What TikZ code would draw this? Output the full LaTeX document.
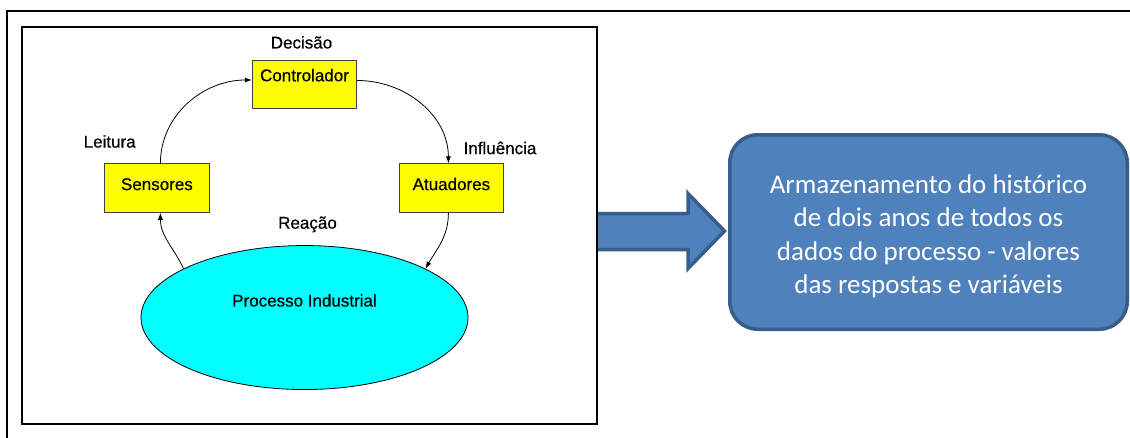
\documentclass[tikz,border=0pt]{standalone}
\usepackage[dvipsnames]{xcolor}
\usepackage{fontspec}
\usepackage{tikz}
\usetikzlibrary{positioning}
\usetikzlibrary{shapes.geometric,arrows.meta}
\newfontfamily\arialfont[FakeBold=0.5]{Liberation Sans}
\newfontfamily\calibrifont{Carlito}
\definecolor{BoxYellow}{HTML}{FFFF00}
\definecolor{ProcCyan}{HTML}{00FFFF}
\definecolor{StoreBlue}{HTML}{4F81BD}
\definecolor{StoreEdge}{HTML}{385D8A}

\tikzset{
    blockbox/.style = {draw=black!75, fill=BoxYellow, line width=0.8pt,
        minimum width=104.5pt, minimum height=48.5pt, inner sep=0pt,
        text height=12.5pt, text depth=8.5pt,
        font=\arialfont\fontsize{17}{20}\selectfont},
    looptag/.style = {inner sep=0pt, font=\arialfont\fontsize{17}{20}\selectfont},
    looparrow/.style = {line width=0.8pt, -{Latex[length=7pt,width=5pt]}},
}

\begin{document}
\begin{tikzpicture}[x=1pt, y=-1pt]
    \useasboundingbox (0,0) rectangle (1130,437);

    %Frames
    \draw[line width=2pt] (6.7,445) -- (6.7,11) -- (1140,11);

    %Big arrow
    \fill[StoreBlue] (597,213.5) -- (688,213.5) -- (688,193.5) -- (724.5,231)
        -- (688,268.5) -- (688,249.5) -- (597,249.5) -- cycle;
    \draw[StoreEdge, line width=3.5pt] (597,213.5) -- (688,213.5) -- (688,193.5)
        -- (724.5,231) -- (688,268.5) -- (688,249.5) -- (597,249.5);

    \draw[line width=2.2pt] (22,26.7) rectangle (596.7,424);

    %Loop blocks
    \node[blockbox, text depth=19pt] (Controller) at (304.5,84.5) {Controlador};

    \node[blockbox, below left = 54.3pt and 42.3pt of Controller] (Sensors) {Sensores};
    \node[blockbox, below right = 54.3pt and 41.6pt of Controller] (Actuators) {Atuadores};

    \node[ellipse, draw, fill=ProcCyan, line width=0.8pt, inner sep=0pt,
        minimum width=327pt, minimum height=144pt,
        text height=12.5pt, text depth=34.5pt,
        font=\arialfont\fontsize{17}{20}\selectfont,
        below = 136pt of Controller] (Process) {Processo Industrial};

    %-------------------------------------------
    %Labels

    \node[looptag, above = 11pt of Controller, xshift=-3pt] (DecisionLabel) {Decisão};
    \node[looptag, above left = 15.5pt and 21pt of Sensors.north] (ReadingLabel) {Leitura};
    \node[looptag, above right = 9pt and 12pt of Actuators.north] (InfluenceLabel) {Influência};
    \node[looptag, above = 12.7pt of Process, xshift=3pt] (ReactionLabel) {Reação};

    %-------------------------------------------
    %Loop

    \draw[looparrow] ([xshift=3.5pt]Sensors.north) to[out=90, in=180] ([yshift=4.5pt]Controller.west);
    \draw[looparrow] ([yshift=4pt]Controller.east) to[out=0, in=90] ([xshift=-3pt]Actuators.north);
    \draw[looparrow] ([xshift=-3pt]Actuators.south) to[out=-90, in=60] (Process.22);
    \draw[looparrow] (Process.158) to[out=115, in=-90] ([xshift=3.5pt]Sensors.south);

    %-------------------------------------------
    %Storage

    \node[draw=StoreEdge, fill=StoreBlue, line width=3.5pt, rounded corners=28pt,
        minimum width=397.5pt, minimum height=194.5pt, text=white, align=center,
        font=\calibrifont\fontsize{27}{33.5}\selectfont] (Storage) at (928.5,232)
        {\rule{0pt}{27pt}Armazenamento do histórico\\ de dois anos de todos os\\ dados do processo - valores\\ das respostas e variáveis};

\end{tikzpicture}
\end{document}
